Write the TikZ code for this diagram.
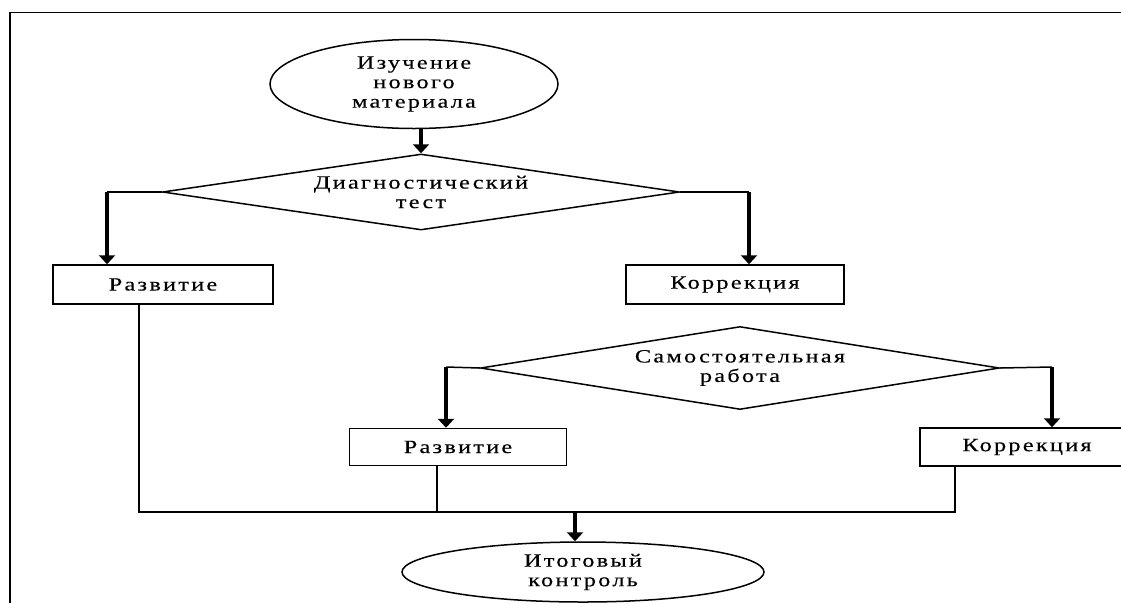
\documentclass[tikz,border=0pt]{standalone}
\usepackage{fontspec}
\setmainfont{Liberation Serif}
\newfontfamily\chartfont{Liberation Serif}[FakeStretch=1.3, LetterSpace=12, FakeBold=0.3]
\usetikzlibrary{arrows.meta, positioning, shapes.geometric}
\tikzset{
  chart/.style={font={\chartfont\fontsize{18.7}{19.5}\selectfont}, align=center, inner sep=0pt, line width=1.5pt},
  terminal/.style={chart, draw, ellipse},
  decision/.style={chart, draw, diamond},
  block/.style={chart, draw, rectangle},
  link/.style={line width=1.5pt},
  bigarrow/.style={line width=4.5pt, -{Triangle[width=16pt,length=9pt]}},
}

\begin{document}
\begin{tikzpicture}[x=1pt, y=-1pt]
\useasboundingbox (0,0) rectangle (1121,603);
\fill[white] (0,0) rectangle (1121,603);
% Frame
\draw[line width=1.7pt] (1121,12.5) -- (10,12.5) -- (10,603);
% Shapes
\node[terminal, minimum width=288pt, minimum height=89pt] (study) at (414,84) {Изучение\\нового\\материала};
\node[decision, shape aspect=6.8, minimum width=517pt, minimum height=76pt] (diag) at (421,192) {Диагностический\\тест};
\node[block, minimum width=220pt, minimum height=39pt] (dev1) at (163,284.5) {Развитие};
\node[block, minimum width=218pt, minimum height=39pt] (corr1) at (735,284.5) {Коррекция};
\node[decision, shape aspect=6.25, minimum width=519pt, minimum height=83pt] (self) at (740,368) {Самостоятельная\\работа};
\node[block, minimum width=217pt, minimum height=37pt] (dev2) at (458,447) {Развитие};
\node[block, minimum width=214pt, minimum height=38pt] (corr2) at (1027,447) {Коррекция};
\node[terminal, minimum width=362pt, minimum height=60pt] (final) at (583,572) {Итоговый\\контроль};
% Branch points
\coordinate (diagL) at (107,192);
\coordinate (diagR) at (749,192);
\coordinate (selfL) at (446,367);
\coordinate (selfR) at (1052,367);
\coordinate (joinL) at (139,512);
\coordinate (joinM) at (437,512);
\coordinate (joinR) at (955,512);
\coordinate (joinD) at (575,512);
% Connectors
\draw[bigarrow] (diag.north |- study.south) -- (diag.north);
\draw[link] (diag.west) -- (diagL);
\draw[bigarrow] (diagL) -- (diagL |- dev1.north);
\draw[link] (diag.east) -- (diagR);
\draw[bigarrow] (diagR) -- (diagR |- corr1.north);
\draw[link] (self.west) -- (selfL);
\draw[bigarrow] (selfL) -- (selfL |- dev2.north);
\draw[link] (self.east) -- (selfR);
\draw[bigarrow] (selfR) -- (selfR |- corr2.north);
\draw[link] (joinL |- dev1.south) -- (joinL) -- (joinR) -- (joinR |- corr2.south);
\draw[link] (joinM |- dev2.south) -- (joinM);
\draw[bigarrow] (joinD) -- (joinD |- final.north);
\end{tikzpicture}
\end{document}
